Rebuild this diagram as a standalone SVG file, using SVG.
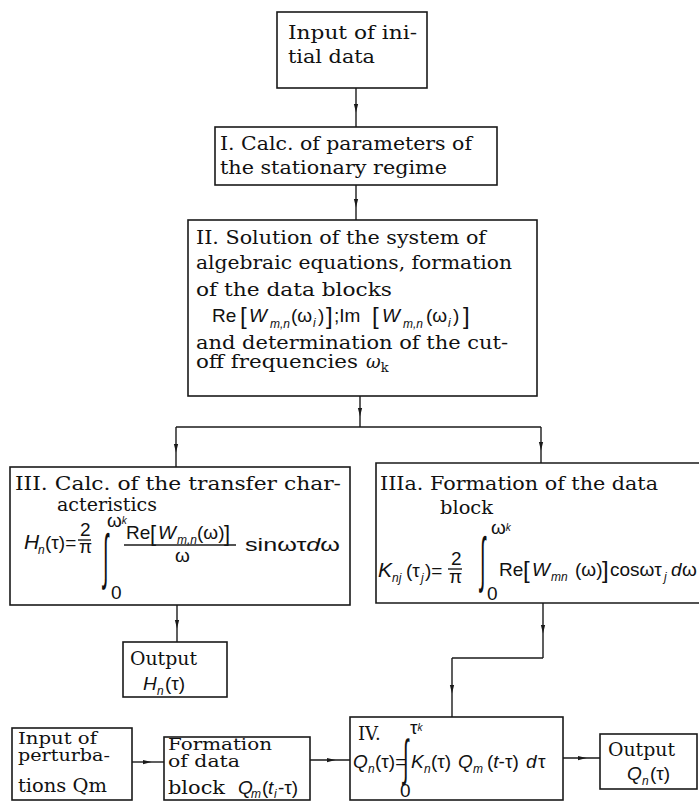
<svg xmlns="http://www.w3.org/2000/svg" width="699" height="802" viewBox="0 0 699 802">
<style>
.bg{fill:#fff}
.box{fill:none;stroke:#1a1a1a;stroke-width:1.6}
.ln{fill:none;stroke:#1a1a1a;stroke-width:1.4}
.arr{fill:none;stroke:#1a1a1a;stroke-width:1.4;marker-mid:url(#ah)}
.t{font-family:"DejaVu Serif","Liberation Serif",serif;font-size:18px;fill:#111}
.t16{font-size:16px}
.m{font-family:"Liberation Sans","DejaVu Sans",sans-serif;font-size:19px;fill:#111}
.i{font-style:italic}
.s{font-size:12px}
.br{font-size:24px}
.int{font-family:"DejaVu Sans",sans-serif;font-weight:200;font-size:40px;fill:#111}
</style>
<defs>
<marker id="ah" viewBox="0 0 10 10" refX="5" refY="5" markerWidth="9" markerHeight="9" markerUnits="userSpaceOnUse" orient="auto">
<path d="M0,2.5 L10,5 L0,7.5 z" fill="#1a1a1a"/>
</marker>
</defs>
<rect class="bg" x="0" y="0" width="699" height="802"/>

<g id="connectors">
<path class="arr" d="M356,88 L356,108 L356,127"/>
<path class="arr" d="M356,185 L356,203 L356,220"/>
<path class="arr" d="M360,396 L360,412 L360,427"/>
<path class="ln" d="M176,427 L541,427"/>
<path class="arr" d="M176,427 L176,448 L176,467"/>
<path class="arr" d="M541,427 L541,446 L541,463"/>
<path class="arr" d="M177,605 L177,624 L177,642"/>
<path class="arr" d="M543,603 L543,629 L543,658"/>
<path class="ln" d="M543,658 L452,658"/>
<path class="arr" d="M452,658 L452,689 L452,717"/>
<path class="arr" d="M132,762 L147,762 L164,762"/>
<path class="arr" d="M310,760 L331,760 L350,760"/>
<path class="arr" d="M563,758 L582,758 L600,758"/>
</g>

<g id="n0">
<rect class="box" x="277" y="12" width="150" height="76"/>
<text class="t" x="288" y="39" textLength="129" lengthAdjust="spacingAndGlyphs">Input of ini-</text>
<text class="t" x="288" y="63" textLength="87" lengthAdjust="spacingAndGlyphs">tial data</text>
</g>

<g id="n1">
<rect class="box" x="215" y="127" width="282" height="58"/>
<text class="t" x="220" y="150" textLength="252" lengthAdjust="spacingAndGlyphs">I. Calc. of parameters of</text>
<text class="t" x="220" y="174" textLength="227" lengthAdjust="spacingAndGlyphs">the stationary regime</text>
</g>

<g id="n2">
<rect class="box" x="188" y="220" width="349" height="176"/>
<text class="t" x="196" y="244" textLength="290" lengthAdjust="spacingAndGlyphs">II. Solution of the system of</text>
<text class="t" x="196" y="269" textLength="316" lengthAdjust="spacingAndGlyphs">algebraic equations, formation</text>
<text class="t" x="196" y="296" textLength="196" lengthAdjust="spacingAndGlyphs">of the data blocks</text>
<text class="m" y="322" font-size="21"><tspan x="212">Re</tspan><tspan class="br" x="240" y="324">[</tspan><tspan class="i" x="249" y="322">W</tspan><tspan class="i s" x="270" y="328">m,n</tspan><tspan x="291" y="322">(ω</tspan><tspan class="i s" x="313" y="327">i</tspan><tspan x="318" y="322">)</tspan><tspan class="br" x="326" y="324">]</tspan><tspan x="334" y="322">;Im</tspan><tspan class="br" x="372" y="324">[</tspan><tspan class="i" x="382" y="322">W</tspan><tspan class="i s" x="403" y="328">m,n</tspan><tspan x="426" y="322">(ω</tspan><tspan class="i s" x="448" y="327">i</tspan><tspan x="453" y="322">)</tspan><tspan class="br" x="463" y="324">]</tspan></text>
<text class="t" x="196" y="349" textLength="312" lengthAdjust="spacingAndGlyphs">and determination of the cut-</text>
<text class="t" x="196" y="368"><tspan textLength="162" lengthAdjust="spacingAndGlyphs">off frequencies</tspan><tspan class="i" x="366">ω</tspan><tspan font-size="13" dy="4">k</tspan></text>
</g>

<g id="n3">
<rect class="box" x="10" y="467" width="340" height="138"/>
<text class="t" x="15" y="490" textLength="326" lengthAdjust="spacingAndGlyphs">III. Calc. of the transfer char-</text>
<text class="t" x="57" y="511" textLength="100" lengthAdjust="spacingAndGlyphs">acteristics</text>
<text class="m" y="549"><tspan class="i" x="24" font-size="21">H</tspan><tspan class="i s" x="38" y="554">n</tspan><tspan x="45" y="549">(τ)=</tspan></text>
<text class="m" x="80" y="536" font-size="14">2</text>
<path class="ln" d="M78,540 H91" stroke-width="1.2"/>
<text class="m" x="79" y="553" font-size="15">π</text>
<text class="int" transform="translate(103,577) scale(0.5,1.5)">∫</text>
<text class="m" x="107" y="527" font-size="12">ω<tspan class="i" font-size="10" dy="-3">k</tspan></text>
<text class="m" x="111" y="599" font-size="14">0</text>
<text class="m" y="539" font-size="17"><tspan x="126">Re</tspan><tspan x="150" font-size="22" y="541">[</tspan><tspan class="i" x="158" y="539">W</tspan><tspan class="i s" x="177" y="544">m,n</tspan><tspan x="197" y="539">(ω)</tspan><tspan x="224" font-size="22" y="541">]</tspan></text>
<path class="ln" d="M124,545 H236" stroke-width="1.2"/>
<text class="m" x="175" y="562" font-size="17">ω</text>
<text class="m" x="245" y="551" textLength="95" lengthAdjust="spacingAndGlyphs">sinωτ<tspan class="i">d</tspan>ω</text>
</g>

<g id="n3a">
<path class="box" d="M699,463 H376 V603 H699"/>
<text class="t" x="380" y="490" textLength="278" lengthAdjust="spacingAndGlyphs">IIIa. Formation of the data</text>
<text class="t" x="440" y="514" textLength="53" lengthAdjust="spacingAndGlyphs">block</text>
<text class="m" y="577"><tspan class="i" x="378" font-size="21">K</tspan><tspan class="i s" x="392" y="582">nj</tspan><tspan x="406" y="577">(τ</tspan><tspan class="i s" x="421" y="582">j</tspan><tspan x="425" y="577">)=</tspan></text>
<text class="m" x="451" y="565" font-size="14">2</text>
<path class="ln" d="M448,569 H462" stroke-width="1.2"/>
<text class="m" x="449" y="583" font-size="15">π</text>
<text class="int" transform="translate(480,580) scale(0.5,1.5)">∫</text>
<text class="m" x="491" y="534" font-size="12">ω<tspan class="i" font-size="10" dy="-3">k</tspan></text>
<text class="m" x="487" y="600" font-size="14">0</text>
<text class="m" y="576" font-size="18"><tspan x="499">Re</tspan><tspan x="523" font-size="24" y="578">[</tspan><tspan class="i" x="532" y="576">W</tspan><tspan class="i s" x="551" y="581">mn</tspan><tspan x="575" y="576">(ω)</tspan><tspan x="602" font-size="24" y="578">]</tspan><tspan x="610" y="576">cosωτ</tspan><tspan class="i s" x="664" y="581">j</tspan><tspan class="i" x="671" y="576">d</tspan><tspan x="682" y="576">ω</tspan></text>
</g>

<g id="outH">
<rect class="box" x="123" y="642" width="104" height="55"/>
<text class="t" x="130" y="665" textLength="67" lengthAdjust="spacingAndGlyphs">Output</text>
<text class="m" y="690"><tspan class="i" x="143">H</tspan><tspan class="i s" x="157" y="695">n</tspan><tspan x="165" y="690">(τ)</tspan></text>
</g>

<g id="inP">
<rect class="box" x="12" y="728" width="120" height="72"/>
<text class="t t16" x="18" y="744" textLength="79" lengthAdjust="spacingAndGlyphs">Input of</text>
<text class="t t16" x="18" y="761" textLength="92" lengthAdjust="spacingAndGlyphs">perturba-</text>
<text class="t" x="18" y="792" textLength="89" lengthAdjust="spacingAndGlyphs">tions Qm</text>
</g>

<g id="form">
<rect class="box" x="164" y="737" width="146" height="63"/>
<text class="t t16" x="168" y="750" textLength="104" lengthAdjust="spacingAndGlyphs">Formation</text>
<text class="t t16" x="168" y="767" textLength="72" lengthAdjust="spacingAndGlyphs">of data</text>
<text class="t" x="168" y="794" textLength="57" lengthAdjust="spacingAndGlyphs">block</text>
<text class="m" y="794" font-size="17"><tspan class="i" x="238">Q</tspan><tspan class="i s" x="251" y="798">m</tspan><tspan x="262" y="794">(</tspan><tspan class="i" x="268">t</tspan><tspan class="i s" x="274" y="798">i</tspan><tspan x="278" y="794">-τ)</tspan></text>
</g>

<g id="n4">
<rect class="box" x="350" y="717" width="213" height="83"/>
<text class="t" x="358" y="740">IV.</text>
<text class="m" x="410" y="734" font-size="13">τ<tspan class="i" font-size="10" dy="-3">k</tspan></text>
<text class="int" transform="translate(403,775) scale(0.5,1.25)">∫</text>
<text class="m" x="400" y="797" font-size="11">0</text>
<text class="m" y="768" font-size="21"><tspan class="i" x="353">Q</tspan><tspan class="i s" x="368" y="773">n</tspan><tspan x="375" y="768">(τ)=</tspan><tspan class="i" x="411">K</tspan><tspan class="i s" x="424" y="773">n</tspan><tspan x="431" y="768">(τ)</tspan><tspan class="i" x="458">Q</tspan><tspan class="i s" x="473" y="773">m</tspan><tspan x="487" y="768">(</tspan><tspan class="i">t</tspan><tspan>-τ)</tspan><tspan class="i" x="526">d</tspan><tspan x="538">τ</tspan></text>
</g>

<g id="outQ">
<rect class="box" x="600" y="734" width="97" height="55"/>
<text class="t" x="608" y="756" textLength="67" lengthAdjust="spacingAndGlyphs">Output</text>
<text class="m" y="780"><tspan class="i" x="627">Q</tspan><tspan class="i s" x="642" y="785">n</tspan><tspan x="650" y="780">(τ)</tspan></text>
</g>
</svg>
